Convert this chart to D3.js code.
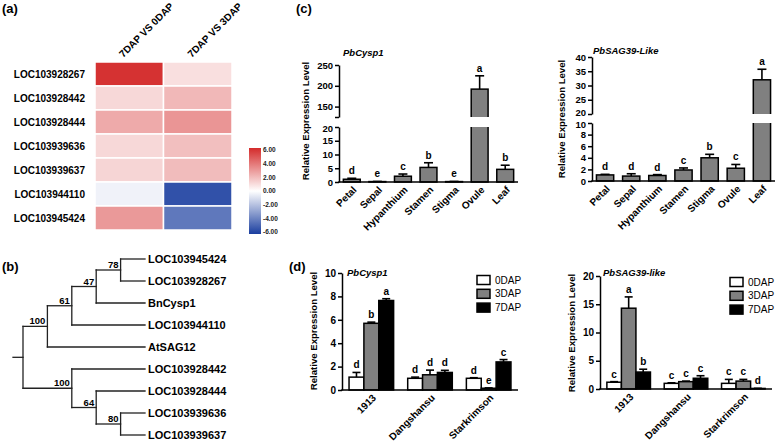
<!DOCTYPE html>
<html><head><meta charset="utf-8">
<script src="https://cdn.jsdelivr.net/npm/d3@7"></script>
<style>body{margin:0;background:#fff} svg{display:block}</style>
</head><body><svg id="fig" width="776" height="442"></svg>
<script>
// ---------------- DATA ----------------
const heatGenes = ["LOC103928267","LOC103928442","LOC103928444","LOC103939636","LOC103939637","LOC103944110","LOC103945424"];
const heatCols = ["7DAP VS 0DAP","7DAP VS 3DAP"];
const heatVs0 = [5.8, 1.1, 2.4, 1.1, 1.2, -0.4, 2.9];
const heatVs3 = [0.9, 2.0, 3.0, 1.8, 1.9, -5.4, -4.2];
const legendTicks = [6, 4, 2, 0, -2, -4, -6];

const treeNewick = "(((((LOC103945424,LOC103928267)78,BnCysp1)47,LOC103944110)61,AtSAG12)100,(LOC103928442,(LOC103928444,(LOC103939636,LOC103939637)80)64)100);";

const tissues = ["Petal","Sepal","Hypanthium","Stamen","Stigma","Ovule","Leaf"];
const cysp1Tissue    = [1.0, 0.15, 2.1, 5.3, 0.15, 192, 4.6];
const cysp1TissueErr = [0.35, 0.05, 0.8, 1.7, 0.05, 32, 1.5];
const cysp1TissueSig = ["d","e","c","b","e","a","b"];
const cysp1LowerTicks = [0, 5, 10, 15, 20];
const cysp1UpperTicks = [125, 150, 200, 250];

const sag39Tissue    = [1.05, 0.85, 0.95, 1.9, 4.0, 2.2, 32];
const sag39TissueErr = [0.1, 0.4, 0.15, 0.35, 0.6, 0.65, 3.7];
const sag39TissueSig = ["d","d","d","c","b","c","a"];
const sag39LowerTicks = [0, 2, 4, 6, 8, 10];
const sag39UpperTicks = [20, 25, 30, 35, 40];

const cultivars = ["1913","Dangshansu","Starkrimson"];
const stages = ["0DAP","3DAP","7DAP"];
const cysp1Dap0 = [1.1, 1.0, 1.0],  cysp1Dap0Err = [0.4, 0.1, 0.05],  cysp1Dap0Sig = ["d","d","d"];
const cysp1Dap3 = [5.7, 1.3, 0.15], cysp1Dap3Err = [0.1, 0.4, 0.03],  cysp1Dap3Sig = ["b","d","e"];
const cysp1Dap7 = [7.65, 1.5, 2.4], cysp1Dap7Err = [0.15, 0.18, 0.2], cysp1Dap7Sig = ["a","d","c"];
const cysp1DapTicks = [0, 2, 4, 6, 8, 10];

const sag39Dap0 = [1.2, 1.0, 1.0],  sag39Dap0Err = [0.1, 0.1, 0.7],  sag39Dap0Sig = ["c","c","c"];
const sag39Dap3 = [14.3, 1.3, 1.4], sag39Dap3Err = [2.0, 0.1, 0.3],  sag39Dap3Sig = ["a","c","c"];
const sag39Dap7 = [3.0, 1.9, 0.1],  sag39Dap7Err = [0.5, 0.45, 0.02], sag39Dap7Sig = ["b","c","d"];
const sag39DapTicks = [0, 5, 10, 15, 20];

// ---------------- DRAW ----------------
const FONT = "'Liberation Sans', Arial, Helvetica, sans-serif";
const svg = d3.select("#fig").attr("font-family", FONT);

function txt(g, x, y, s, size, opts = {}) {
  return g.append("text").attr("x", x).attr("y", y).text(s)
    .attr("font-size", size).attr("font-weight", opts.weight || "bold")
    .attr("font-style", opts.style || "normal")
    .attr("text-anchor", opts.anchor || "start")
    .attr("fill", opts.fill || "#000");
}

// panel letters
txt(svg, 2, 13, "(a)", 13);
txt(svg, 2, 271, "(b)", 13);
txt(svg, 296, 13, "(c)", 13);
txt(svg, 289, 271, "(d)", 13);

// ---- (a) heatmap ----
(function () {
  const g = svg.append("g");
  const hx = d3.scaleBand().domain(heatCols).range([95, 232]);
  const hy = d3.scaleBand().domain(heatGenes).range([62, 230]);
  const color = d3.scaleLinear().domain([-6, 0, 6]).range(["#1a3e9f", "#ffffff", "#d42b2b"]);
  const cells = [];
  heatGenes.forEach((gname, i) => {
    cells.push({ gene: gname, col: heatCols[0], v: heatVs0[i] });
    cells.push({ gene: gname, col: heatCols[1], v: heatVs3[i] });
  });
  g.selectAll("rect.cell").data(cells).join("rect")
    .attr("x", d => hx(d.col)).attr("y", d => hy(d.gene))
    .attr("width", hx.bandwidth()).attr("height", hy.bandwidth())
    .attr("fill", d => color(d.v)).attr("stroke", "#fff").attr("stroke-width", 1.5);
  heatGenes.forEach(gname => {
    txt(g, 85, hy(gname) + hy.bandwidth() / 2, gname, 10, { anchor: "end" }).attr("dy", "0.36em");
  });
  heatCols.forEach(c => {
    txt(g, 0, 0, c, 10).attr("transform", `translate(${hx(c) + hx.bandwidth() / 2 - 6},58) rotate(-45)`);
  });
  // legend
  const defs = svg.append("defs");
  const grad = defs.append("linearGradient").attr("id", "hg").attr("x1", 0).attr("y1", 0).attr("x2", 0).attr("y2", 1);
  [6, 3, 0, -3, -6].forEach((v, i) => grad.append("stop").attr("offset", (i * 25) + "%").attr("stop-color", color(v)));
  const ly = d3.scaleLinear().domain([-6, 6]).range([232, 150]);
  g.append("rect").attr("x", 249).attr("y", ly(6) - 2).attr("width", 12).attr("height", ly(-6) - ly(6) + 4).attr("fill", "url(#hg)");
  legendTicks.forEach(v => {
    txt(g, 263, ly(v), v.toFixed(2), 6.5, { fill: "#222" }).attr("dy", "0.35em");
  });
})();

// ---- (b) tree ----
(function () {
  const g = svg.append("g");
  function parseNewick(s) {
    let i = 0;
    function node() {
      const n = { children: [] };
      if (s[i] === "(") {
        i++; n.children.push(node());
        while (s[i] === ",") { i++; n.children.push(node()); }
        i++;
      }
      let name = "";
      while (i < s.length && !",();".includes(s[i])) name += s[i++];
      if (n.children.length) n.support = name; else { n.name = name; delete n.children; }
      return n;
    }
    return node();
  }
  const root = d3.hierarchy(parseNewick(treeNewick));
  const leaves = root.leaves();
  const yLeaf = d3.scaleLinear().domain([0, leaves.length - 1]).range([259, 435]);
  const xH = d3.scaleLinear().domain([root.height, 0]).range([23, 145]);
  leaves.forEach((l, i) => l.y = yLeaf(i));
  root.eachAfter(n => {
    n.x = xH(n.height);
    if (n.children) n.y = (n.children[0].y + n.children[n.children.length - 1].y) / 2;
  });
  const line = (x1, y1, x2, y2) => g.append("line").attr("x1", x1).attr("y1", y1).attr("x2", x2).attr("y2", y2)
    .attr("stroke", "#222").attr("stroke-width", 1.3).attr("stroke-linecap", "square");
  line(13, root.y, root.x, root.y);
  root.descendants().forEach(n => {
    if (n.parent) line(n.parent.x, n.y, n.x, n.y);
    if (n.children) line(n.x, n.children[0].y, n.x, n.children[n.children.length - 1].y);
    if (n.children && n.parent && n.data.support)
      txt(g, n.x - 2, n.y - 2, n.data.support, 9.5, { anchor: "end" });
  });
  leaves.forEach(l => txt(g, 148, l.y, l.data.name, 11).attr("dy", "0.36em"));
})();

// ---- generic helpers ----
function styleAxis(a, fs) {
  a.select(".domain").attr("stroke", "#000").attr("stroke-width", 1.5);
  a.selectAll(".tick line").attr("stroke", "#000").attr("stroke-width", 1.5);
  a.selectAll(".tick text").attr("font-family", FONT).attr("font-size", fs || 10).attr("font-weight", "bold").attr("fill", "#000");
}
function yAxis(g, scale, ticks, x, fmt, fs) {
  const a = g.append("g").attr("transform", `translate(${x},0)`)
    .call(d3.axisLeft(scale).tickValues(ticks).tickSize(4).tickSizeOuter(0).tickPadding(2).tickFormat(fmt || (d => d)));
  styleAxis(a, fs);
  return a;
}
function yTitle(g, x, y) {
  txt(g, 0, 0, "Relative Expression Level", 9.6, { anchor: "middle" })
    .attr("transform", `translate(${x},${y}) rotate(-90)`).attr("dy", "0.35em");
}
function xLabels(g, items, axisY) {
  items.forEach(([s, cx]) => {
    txt(g, 0, 0, s, 10, { anchor: "end" }).attr("dy", "0.35em")
      .attr("transform", `translate(${cx + 3},${axisY + 6}) rotate(-45)`);
  });
}
function errBar(g, cx, yv, ye, capW) {
  g.append("line").attr("x1", cx).attr("x2", cx).attr("y1", yv).attr("y2", ye).attr("stroke", "#000").attr("stroke-width", 1.6);
  g.append("line").attr("x1", cx - capW / 2).attr("x2", cx + capW / 2).attr("y1", ye).attr("y2", ye).attr("stroke", "#000").attr("stroke-width", 1.6);
}

// ---- (c) broken-axis tissue charts ----
function tissueChart(o) {
  const g = svg.append("g");
  const x = d3.scaleBand().domain(tissues).range(o.xRange).paddingInner(0.34).paddingOuter(0.17);
  const lo = d3.scaleLinear().domain(o.lowerDomain).range(o.lowerRange);
  const up = d3.scaleLinear().domain(o.upperDomain).range(o.upperRange);
  const y = v => v <= o.lowerDomain[1] ? lo(v) : up(v);
  const bw = x.bandwidth();
  tissues.forEach((t, i) => {
    const v = o.values[i];
    g.append("rect").attr("x", x(t)).attr("y", y(v)).attr("width", bw).attr("height", lo(0) - y(v))
      .attr("fill", "#808080").attr("stroke", "#000").attr("stroke-width", 1.5);
  });
  // break gap
  g.append("rect").attr("x", o.xRange[0] - 40).attr("width", o.xRange[1] - o.xRange[0] + 45)
    .attr("y", o.upperRange[0]).attr("height", o.lowerRange[1] - o.upperRange[0]).attr("fill", "#fff");
  tissues.forEach((t, i) => {
    const v = o.values[i], e = o.errs[i], cx = x(t) + bw / 2;
    errBar(g, cx, y(v), y(v + e), 9);
    txt(g, cx, y(v + e) - 4, o.sigs[i], 10, { anchor: "middle" });
  });
  const aLo = yAxis(g, lo, o.lowerTicks, o.xRange[0], null, 9.5);
  const aUp = yAxis(g, up, o.upperTicks, o.xRange[0], o.upperFmt, 9.5);
  // nudge the labels that sit at the axis break so they do not collide
  aLo.selectAll(".tick text").filter(d => d === o.lowerDomain[1]).attr("dy", "0.5em");
  aUp.selectAll(".tick text").filter(d => d === o.upperDomain[0]).attr("dy", "0.15em");
  g.append("line").attr("x1", o.xRange[0] - 0.75).attr("x2", o.xRange[1]).attr("y1", lo(0)).attr("y2", lo(0))
    .attr("stroke", "#000").attr("stroke-width", 1.5);
  xLabels(g, tissues.map(t => [t, x(t) + bw / 2]), lo(0));
  txt(g, o.titleX, o.titleY, o.title, 9.5, { style: "italic" });
  yTitle(g, o.ytX, o.ytY);
}
tissueChart({
  xRange: [339, 518], lowerDomain: [0, 20], lowerRange: [182, 127], upperDomain: [125, 250], upperRange: [117, 65],
  values: cysp1Tissue, errs: cysp1TissueErr, sigs: cysp1TissueSig,
  lowerTicks: cysp1LowerTicks, upperTicks: cysp1UpperTicks, upperFmt: d => d === 125 ? "" : d,
  title: "PbCysp1", titleX: 343, titleY: 56, ytX: 306, ytY: 121
});
tissueChart({
  xRange: [592, 775], lowerDomain: [0, 10], lowerRange: [181, 123], upperDomain: [20, 40], upperRange: [114, 57],
  values: sag39Tissue, errs: sag39TissueErr, sigs: sag39TissueSig,
  lowerTicks: sag39LowerTicks, upperTicks: sag39UpperTicks,
  title: "PbSAG39-Like", titleX: 593, titleY: 54, ytX: 562, ytY: 119
});

// ---- (d) grouped charts ----
function groupChart(o) {
  const g = svg.append("g");
  const x0 = d3.scaleBand().domain(cultivars).range(o.xRange).paddingInner(0.24).paddingOuter(0.12);
  const x1 = d3.scaleBand().domain(stages).range([0, x0.bandwidth()]);
  const y = d3.scaleLinear().domain([0, o.yMax]).range(o.yRange);
  const fills = { "0DAP": "#fff", "3DAP": "#808080", "7DAP": "#000" };
  const series = stages.map((s, k) => ({ stage: s, vals: o.vals[k], errs: o.errs[k], sigs: o.sigs[k] }));
  series.forEach(se => cultivars.forEach((c, i) => {
    const v = se.vals[i];
    g.append("rect").attr("x", x0(c) + x1(se.stage)).attr("y", y(v)).attr("width", x1.bandwidth()).attr("height", y(0) - y(v))
      .attr("fill", fills[se.stage]).attr("stroke", "#000").attr("stroke-width", 1.5);
  }));
  series.forEach(se => cultivars.forEach((c, i) => {
    const v = se.vals[i], e = se.errs[i], cx = x0(c) + x1(se.stage) + x1.bandwidth() / 2;
    errBar(g, cx, y(v), y(v + e), 8);
    txt(g, cx, y(v + e) - 4, se.sigs[i], 10, { anchor: "middle" });
  }));
  yAxis(g, y, o.ticks, o.xRange[0]);
  g.append("line").attr("x1", o.xRange[0] - 0.75).attr("x2", o.xRange[1]).attr("y1", y(0)).attr("y2", y(0))
    .attr("stroke", "#000").attr("stroke-width", 1.5);
  xLabels(g, cultivars.map(c => [c, x0(c) + x0.bandwidth() / 2]), y(0));
  txt(g, o.titleX, o.titleY, o.title, 9.5, { style: "italic" });
  yTitle(g, o.ytX, o.ytY);
  stages.forEach((s, k) => {
    const cy = o.legY + k * 13.8;
    g.append("rect").attr("x", o.legX).attr("y", cy - 4.5).attr("width", 13).attr("height", 9)
      .attr("fill", fills[s]).attr("stroke", "#000").attr("stroke-width", 1.5);
    txt(g, o.legX + 18, cy, s, 10, { weight: "normal" }).attr("dy", "0.35em");
  });
}
groupChart({
  xRange: [342, 518], yMax: 10, yRange: [390, 273], ticks: cysp1DapTicks,
  vals: [cysp1Dap0, cysp1Dap3, cysp1Dap7], errs: [cysp1Dap0Err, cysp1Dap3Err, cysp1Dap7Err], sigs: [cysp1Dap0Sig, cysp1Dap3Sig, cysp1Dap7Sig],
  title: "PbCysp1", titleX: 347, titleY: 276, ytX: 314, ytY: 331, legX: 477, legY: 280
});
groupChart({
  xRange: [600, 772], yMax: 20, yRange: [389, 276], ticks: sag39DapTicks,
  vals: [sag39Dap0, sag39Dap3, sag39Dap7], errs: [sag39Dap0Err, sag39Dap3Err, sag39Dap7Err], sigs: [sag39Dap0Sig, sag39Dap3Sig, sag39Dap7Sig],
  title: "PbSAG39-like", titleX: 603, titleY: 276, ytX: 572, ytY: 333, legX: 730, legY: 282
});
</script>
</body></html>
